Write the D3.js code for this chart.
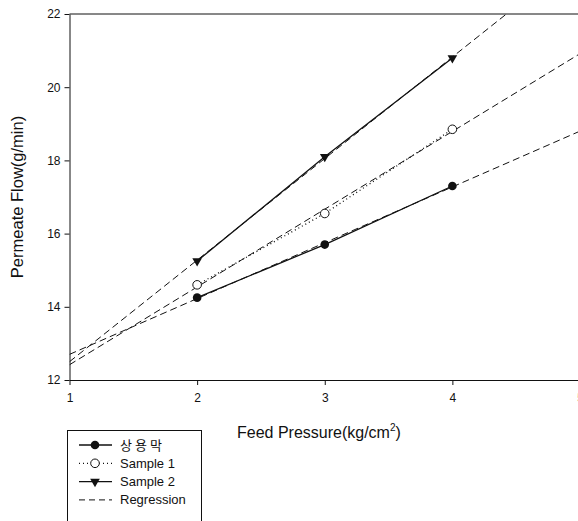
<!DOCTYPE html>
<html>
<head>
<meta charset="utf-8">
<script src="https://cdn.jsdelivr.net/npm/d3@7"></script>
<style>
  body { margin: 0; background: #fff; }
  text { font-family: "Liberation Sans", Arial, sans-serif; fill: #111; }
</style>
</head>
<body>
<div id="chart"></div>
<script>
// Data
var pressures = [2, 3, 4];
var seriesNames = ["상용막", "Sample 1", "Sample 2"];
var flowCommercial = [14.25, 15.7, 17.3];
var flowSample1 = [14.6, 16.55, 18.85];
var flowSample2 = [15.25, 18.1, 20.8];
var xTicks = [1, 2, 3, 4, 5];
var yTicks = [12, 14, 16, 18, 20, 22];

var width = 578, height = 521;
var x = d3.scaleLinear().domain([1, 5]).range([69.5, 580]);
var y = d3.scaleLinear().domain([12, 22]).range([380, 14]);

var svg = d3.select("#chart").append("svg")
    .attr("width", width)
    .attr("height", height);

svg.append("defs").append("clipPath")
    .attr("id", "plotclip")
    .append("rect")
    .attr("x", x(1)).attr("y", y(22))
    .attr("width", width - x(1)).attr("height", y(12) - y(22));

// Axes
var xAxis = d3.axisBottom(x).tickValues(xTicks).tickFormat(d3.format("d"))
    .tickSize(5).tickSizeOuter(0);
var yAxis = d3.axisLeft(y).tickValues(yTicks).tickFormat(d3.format("d"))
    .tickSize(5).tickSizeOuter(0);

var gx = svg.append("g")
    .attr("transform", "translate(0," + y(12) + ")")
    .call(xAxis);
gx.selectAll("text").attr("y", 13).style("font-size", "12px");

var gy = svg.append("g")
    .attr("transform", "translate(" + x(1) + ",0)")
    .call(yAxis);
gy.selectAll("text").attr("x", -9).style("font-size", "12px");

svg.selectAll(".domain, .tick line").attr("stroke", "#111");

// Top frame line
svg.append("line")
    .attr("x1", x(1)).attr("x2", width)
    .attr("y1", y(22)).attr("y2", y(22))
    .attr("stroke", "#111");

// Axis titles
svg.append("text")
    .attr("transform", "translate(23," + 197 + ") rotate(-90)")
    .style("text-anchor", "middle")
    .style("font-size", "16.5px")
    .text("Permeate Flow(g/min)");

var xt = svg.append("text")
    .attr("x", 237).attr("y", 438)
    .style("font-size", "16px")
    .text("Feed Pressure(kg/cm");
xt.append("tspan").attr("dy", -7).style("font-size", "10px").text("2");
xt.append("tspan").attr("dy", 7).text(")");

// Least squares fit for the regression lines
function fit(xs, ys) {
    var mx = d3.mean(xs), my = d3.mean(ys);
    var num = d3.sum(xs, function(v, i) { return (v - mx) * (ys[i] - my); });
    var den = d3.sum(xs, function(v) { return (v - mx) * (v - mx); });
    var b = num / den;
    return { slope: b, intercept: my - b * mx };
}

var allSeries = [flowCommercial, flowSample1, flowSample2];
var plot = svg.append("g").attr("clip-path", "url(#plotclip)");

allSeries.forEach(function(vals) {
    var f = fit(pressures, vals);
    plot.append("line")
        .attr("x1", x(1)).attr("y1", y(f.intercept + f.slope))
        .attr("x2", x(5)).attr("y2", y(f.intercept + f.slope * 5))
        .attr("stroke", "#111")
        .attr("stroke-width", 1)
        .attr("stroke-dasharray", "7,4");
});

var line = d3.line()
    .x(function(d, i) { return x(pressures[i]); })
    .y(function(d) { return y(d); });

var lineStyles = ["none", "1,3", "none"];
allSeries.forEach(function(vals, k) {
    plot.append("path")
        .datum(vals)
        .attr("d", line)
        .attr("fill", "none")
        .attr("stroke", "#111")
        .attr("stroke-width", 1.3)
        .attr("stroke-dasharray", lineStyles[k]);
});

// Markers
var tri = d3.symbol().type(d3.symbolTriangle).size(40);
function drawMarker(g, k, cx, cy) {
    if (k === 0) {
        g.append("circle").attr("cx", cx).attr("cy", cy).attr("r", 4.3).attr("fill", "#111");
    } else if (k === 1) {
        g.append("circle").attr("cx", cx).attr("cy", cy).attr("r", 4.3)
            .attr("fill", "#fff").attr("stroke", "#111").attr("stroke-width", 1);
    } else {
        g.append("path").attr("d", tri)
            .attr("transform", "translate(" + cx + "," + cy + ") rotate(180)")
            .attr("fill", "#111");
    }
}

allSeries.forEach(function(vals, k) {
    vals.forEach(function(v, i) {
        drawMarker(svg, k, x(pressures[i]), y(v));
    });
});

// Legend
var legend = svg.append("g");
legend.append("rect")
    .attr("x", 67.5).attr("y", 430.5)
    .attr("width", 134).attr("height", 100)
    .attr("fill", "#fff").attr("stroke", "#111");

var legendNames = seriesNames.concat(["Regression"]);
var legendDash = ["none", "1,3", "none", "6,4"];
legendNames.forEach(function(name, k) {
    var ly = 445 + k * 18.3;
    legend.append("line")
        .attr("x1", 79).attr("x2", 112)
        .attr("y1", ly).attr("y2", ly)
        .attr("stroke", "#111")
        .attr("stroke-width", k === 3 ? 1 : 1.3)
        .attr("stroke-dasharray", legendDash[k]);
    if (k < 3) drawMarker(legend, k, 95, ly);
    legend.append("text")
        .attr("x", 120).attr("y", ly)
        .attr("dy", "0.35em")
        .style("font-size", "13px")
        .style("letter-spacing", k === 0 ? "3px" : null)
        .style("font-family", k === 0 ? "'Noto Sans CJK KR', sans-serif" : null)
        .text(name);
});
</script>
</body>
</html>
